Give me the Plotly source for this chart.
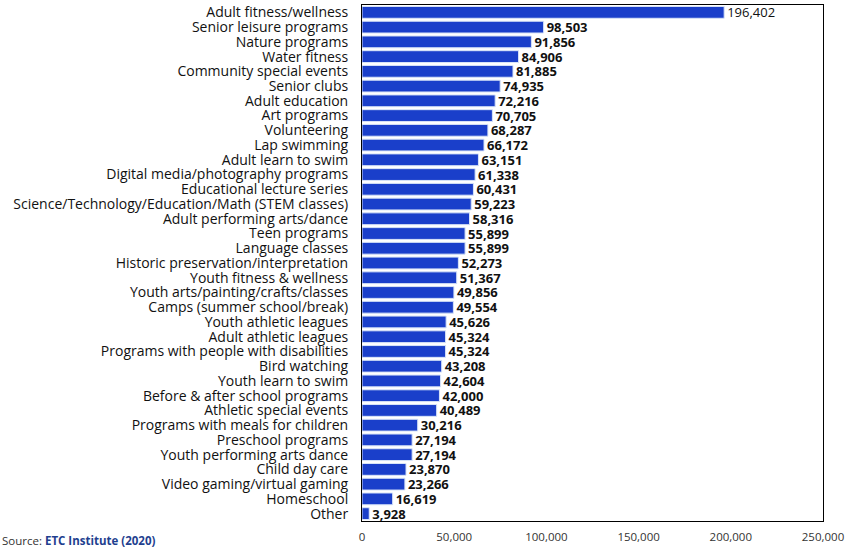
import plotly.graph_objects as go

categories = [
    "Adult fitness/wellness", "Senior leisure programs", "Nature programs", "Water fitness",
    "Community special events", "Senior clubs", "Adult education", "Art programs",
    "Volunteering", "Lap swimming", "Adult learn to swim", "Digital media/photography programs",
    "Educational lecture series", "Science/Technology/Education/Math (STEM classes)",
    "Adult performing arts/dance", "Teen programs", "Language classes",
    "Historic preservation/interpretation", "Youth fitness & wellness",
    "Youth arts/painting/crafts/classes", "Camps (summer school/break)", "Youth athletic leagues",
    "Adult athletic leagues", "Programs with people with disabilities", "Bird watching",
    "Youth learn to swim", "Before & after school programs", "Athletic special events",
    "Programs with meals for children", "Preschool programs", "Youth performing arts dance",
    "Child day care", "Video gaming/virtual gaming", "Homeschool", "Other",
]
values = [
    196402, 98503, 91856, 84906, 81885, 74935, 72216, 70705, 68287, 66172, 63151, 61338,
    60431, 59223, 58316, 55899, 55899, 52273, 51367, 49856, 49554, 45626, 45324, 45324,
    43208, 42604, 42000, 40489, 30216, 27194, 27194, 23870, 23266, 16619, 3928,
]
x_ticks = [0, 50000, 100000, 150000, 200000, 250000]
x_tick_labels = ["0", "50,000", "100,000", "150,000", "200,000", "250,000"]

labels = []
for i, v in enumerate(values):
    s = f"{v:,}"
    labels.append(s if i == 0 else f"<b>{s}</b>")

fig = go.Figure(go.Bar(
    x=values, y=categories, orientation="h",
    marker=dict(color="#1a3fca", line=dict(color="#d8e4f8", width=1)),
    text=labels, textposition="outside", cliponaxis=False, constraintext="none",
    textfont=dict(family="Open Sans", size=13, color="#111111"),
    hoverinfo="skip",
))

fig.update_layout(
    width=846, height=550,
    margin=dict(l=362, r=23, t=2, b=29),
    paper_bgcolor="white", plot_bgcolor="white",
    bargap=0.2, showlegend=False,
    font=dict(family="Open Sans", color="#111111"),
)
fig.update_xaxes(
    range=[0, 250000], tickvals=x_ticks, ticktext=x_tick_labels,
    showgrid=False, zeroline=False, showline=True, mirror=True,
    linecolor="black", linewidth=1,
    tickfont=dict(family="Open Sans", size=11.5, color="#333333"),
    ticks="outside", ticklen=5, tickcolor="rgba(0,0,0,0)",
)
fig.update_yaxes(
    autorange="reversed", showgrid=False, zeroline=False,
    tickmode="array", tickvals=categories, ticktext=categories,
    showline=True, mirror=True, linecolor="black", linewidth=1,
    tickfont=dict(family="Open Sans", size=14, color="#111111"),
    ticks="outside", ticklen=10, tickcolor="rgba(0,0,0,0)",
)
fig.add_annotation(
    xref="paper", yref="paper", x=-362 / 461, y=-29 / 519,
    xanchor="left", yanchor="bottom", showarrow=False,
    text="Source: <b><span style='color:#1f3f8f'>ETC Institute (2020)</span></b>",
    font=dict(family="Open Sans", size=11.5, color="#333333"),
)

fig.write_html("out.html")
